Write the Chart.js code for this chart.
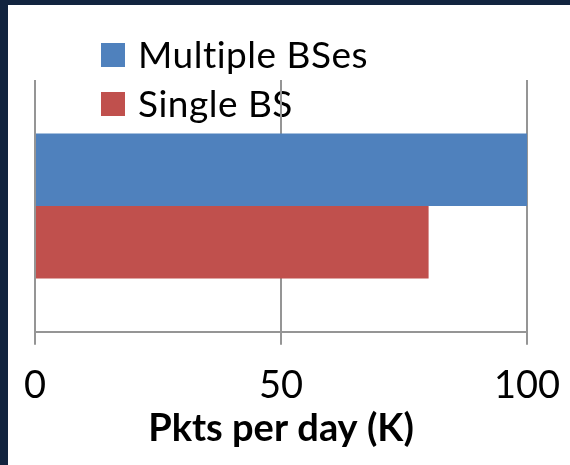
<!DOCTYPE html>
<html>
<head>
<meta charset="utf-8">
<script src="https://cdn.jsdelivr.net/npm/chart.js@4"></script>
<style>
  body { margin: 0; background: #ffffff; }
  #wrap { position: relative; width: 570px; height: 465px; overflow: hidden; }
  #wrap canvas { position: absolute; left: 0; top: 0; }
  .navy { position: absolute; background: #12243f; }
</style>
</head>
<body>
<div id="wrap">
  <div class="navy" style="left:0;top:0;width:8px;height:465px;"></div>
  <div class="navy" style="left:0;top:0;width:570px;height:5px;"></div>
  <canvas id="pkts" width="570" height="465"></canvas>
</div>
<script>
const categories = [''];
const multipleBs = [100];
const singleBs = [80];
const xTicks = [0, 50, 100];

// legend drawn in the top-left corner, under the grid lines like the original
const stackedLegend = {
    id: 'stackedLegend',
    beforeDraw(chart) {
        const ctx = chart.ctx;
        ctx.save();
        ctx.font = '37px Lato';
        ctx.letterSpacing = '0.5px';
        ctx.textBaseline = 'middle';
        chart.data.datasets.forEach((ds, i) => {
            const y = 55 + i * 49;
            ctx.fillStyle = ds.backgroundColor;
            ctx.fillRect(101, y - 12, 24, 24);
            ctx.fillStyle = '#000000';
            ctx.fillText(ds.label, 138, y + 1);
        });
        ctx.restore();
    }
};

const ctx = document.getElementById('pkts').getContext('2d');
new Chart(ctx, {
    type: 'bar',
    data: {
        labels: categories,
        datasets: [
            { label: 'Multiple BSes', data: multipleBs, backgroundColor: '#4f81bd' },
            { label: 'Single BS', data: singleBs, backgroundColor: '#c0504d' }
        ]
    },
    options: {
        indexAxis: 'y',
        responsive: false,
        animation: false,
        categoryPercentage: 0.576,
        barPercentage: 1,
        layout: { padding: { left: 35, right: 43, top: 80, bottom: 13 } },
        scales: {
            x: {
                min: 0,
                max: 100,
                afterBuildTicks: axis => { axis.ticks = xTicks.map(v => ({ value: v })); },
                // keep the plot edges fixed; the end labels may hang over
                afterFit: axis => { axis.paddingLeft = 0; axis.paddingRight = 0; },
                grid: { color: '#959595', lineWidth: 2, tickLength: 13 },
                border: { color: '#959595', width: 2 },
                ticks: { color: '#000000', font: { family: 'Lato', size: 38 }, padding: 18 },
                title: {
                    display: true,
                    text: 'Pkts per day (K)',
                    color: '#000000',
                    font: { family: 'Lato', size: 38, weight: 'bold' },
                    padding: { top: -20, bottom: 0 }
                }
            },
            y: { display: false }
        },
        plugins: {
            legend: { display: false },
            tooltip: { enabled: false }
        }
    },
    plugins: [stackedLegend]
});
</script>
</body>
</html>
